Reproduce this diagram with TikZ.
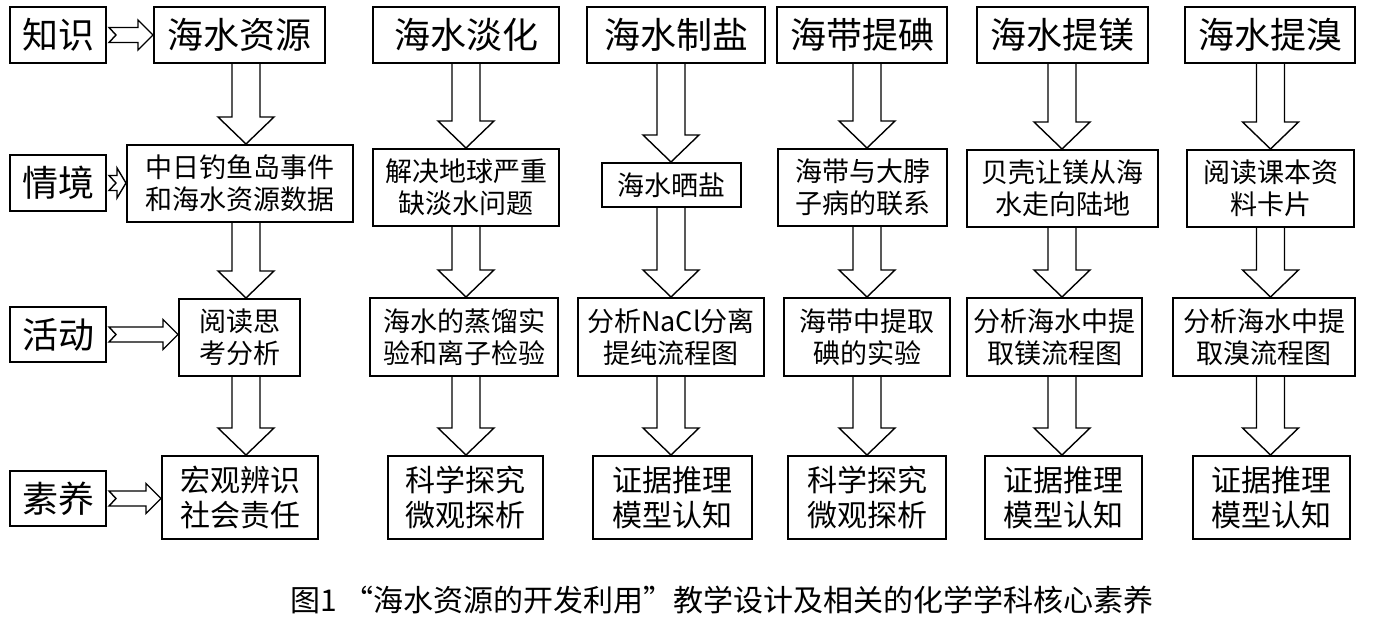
\documentclass[tikz,border=0pt]{standalone}
\usepackage{fontspec}
\setmainfont{Noto Sans CJK SC}
\usetikzlibrary{calc}

\tikzset{
  box/.style={draw, line width=2pt, inner sep=0pt, align=center},
  big/.style={font=\fontsize{36}{38}\selectfont},
  mid/.style={font=\fontsize{27}{32}\selectfont},
  low/.style={font=\fontsize{30}{35}\selectfont},
  hollow/.style={line width=1.4pt, line join=miter},
}

% hollow arrow down a column: #1 column coordinate, #2 from, #3 to
\newcommand{\downarr}[3]{%
  \draw[hollow] let \p0=(#1), \p1=(#2.south), \p2=(#3.north) in
    (\x0-14pt,\y1) -- (\x0-14pt,\y2+27pt) -- (\x0-28pt,\y2+27pt) -- (\x0,\y2)
    -- (\x0+28pt,\y2+27pt) -- (\x0+14pt,\y2+27pt) -- (\x0+14pt,\y1);}

% notched hollow arrow to the right: [#1 head length], #2 from, #3 to
\newcommand{\rightarr}[3][15pt]{%
  \draw[hollow] let \p1=(#2.east), \p2=(#3.west) in
    (\x1+2pt,\y1+7.5pt) -- (\x2-#1,\y1+7.5pt) -- (\x2-#1,\y1+15pt) -- (\x2,\y1)
    -- (\x2-#1,\y1-15pt) -- (\x2-#1,\y1-7.5pt) -- (\x1+2pt,\y1-7.5pt)
    -- (\x1+9pt,\y1) -- cycle;}

\begin{document}
\begin{tikzpicture}[x=1pt,y=-1pt]
  \useasboundingbox (0,0) rectangle (1376,620);

  % left labels
  \node[box, big, minimum width=96, minimum height=56] (zhishi) at (58,35) {知识};
  \node[box, big, minimum width=96, minimum height=56] (qingjing) at (58,183) {情境};
  \node[box, big, minimum width=96, minimum height=55] (huodong) at (58,334.5) {活动};
  \node[box, big, minimum width=96, minimum height=55] (suyang) at (58,498.5) {素养};

  % knowledge row
  \node[box, big, minimum width=171, minimum height=56] (a1) at (239.5,35) {海水资源};
  \node[box, big, minimum width=186, minimum height=56] (a2) at (466,35) {海水淡化};
  \node[box, big, minimum width=178, minimum height=56] (a3) at (676,35) {海水制盐};
  \node[box, big, minimum width=170, minimum height=56] (a4) at (862,35) {海带提碘};
  \node[box, big, minimum width=171, minimum height=56] (a5) at (1062.5,35) {海水提镁};
  \node[box, big, minimum width=170, minimum height=56] (a6) at (1270,35) {海水提溴};

  % situation row
  \node[box, mid, minimum width=226, minimum height=77] (b1) at (240,183.5) {中日钓鱼岛事件\\和海水资源数据};
  \node[box, mid, minimum width=186, minimum height=77] (b2) at (466,187.5) {解决地球严重\\缺淡水问题};
  \node[box, mid, minimum width=139, minimum height=44] (b3) at (671.5,185) {海水晒盐};
  \node[box, mid, minimum width=169, minimum height=77] (b4) at (862.5,187.5) {海带与大脖\\子病的联系};
  \node[box, mid, minimum width=191, minimum height=77] (b5) at (1062.5,188.5) {贝壳让镁从海\\水走向陆地};
  \node[box, mid, minimum width=167, minimum height=77] (b6) at (1270.5,188.5) {阅读课本资\\料卡片};

  % activity row
  \node[box, mid, minimum width=121, minimum height=77] (c1) at (239.5,337.5) {阅读思\\考分析};
  \node[box, mid, minimum width=188, minimum height=78] (c2) at (464,337) {海水的蒸馏实\\验和离子检验};
  \node[box, mid, minimum width=186, minimum height=78] (c3) at (671,337) {分析NaCl分离\\提纯流程图};
  \node[box, mid, minimum width=166, minimum height=78] (c4) at (867,337) {海带中提取\\碘的实验};
  \node[box, mid, minimum width=175, minimum height=78] (c5) at (1054.5,337) {分析海水中提\\取镁流程图};
  \node[box, mid, minimum width=182, minimum height=78] (c6) at (1264,337) {分析海水中提\\取溴流程图};

  % competence row
  \node[box, low, minimum width=156, minimum height=83] (d1) at (240,497.5) {宏观辨识\\社会责任};
  \node[box, low, minimum width=155, minimum height=83] (d2) at (465.5,497.5) {科学探究\\微观探析};
  \node[box, low, minimum width=159, minimum height=83] (d3) at (672.5,497.5) {证据推理\\模型认知};
  \node[box, low, minimum width=158, minimum height=83] (d4) at (867,497.5) {科学探究\\微观探析};
  \node[box, low, minimum width=157, minimum height=83] (d5) at (1063.5,497.5) {证据推理\\模型认知};
  \node[box, low, minimum width=157, minimum height=83] (d6) at (1271.5,497.5) {证据推理\\模型认知};

  % arrow columns
  \coordinate (k1) at (246,0);
  \coordinate (k2) at (466,0);
  \coordinate (k3) at (671,0);
  \coordinate (k4) at (867,0);
  \coordinate (k5) at (1062,0);
  \coordinate (k6) at (1270.5,0);

  \foreach \c in {1,...,6}{
    \downarr{k\c}{a\c}{b\c}
    \downarr{k\c}{b\c}{c\c}
    \downarr{k\c}{c\c}{d\c}
  }

  \rightarr{zhishi}{a1}
  \rightarr[9pt]{qingjing}{b1}
  \rightarr{huodong}{c1}
  \rightarr{suyang}{d1}

  \node[font=\fontsize{30}{32}\selectfont] (caption) at (722,600) {图1 “海水资源的开发利用”教学设计及相关的化学学科核心素养};
\end{tikzpicture}
\end{document}
